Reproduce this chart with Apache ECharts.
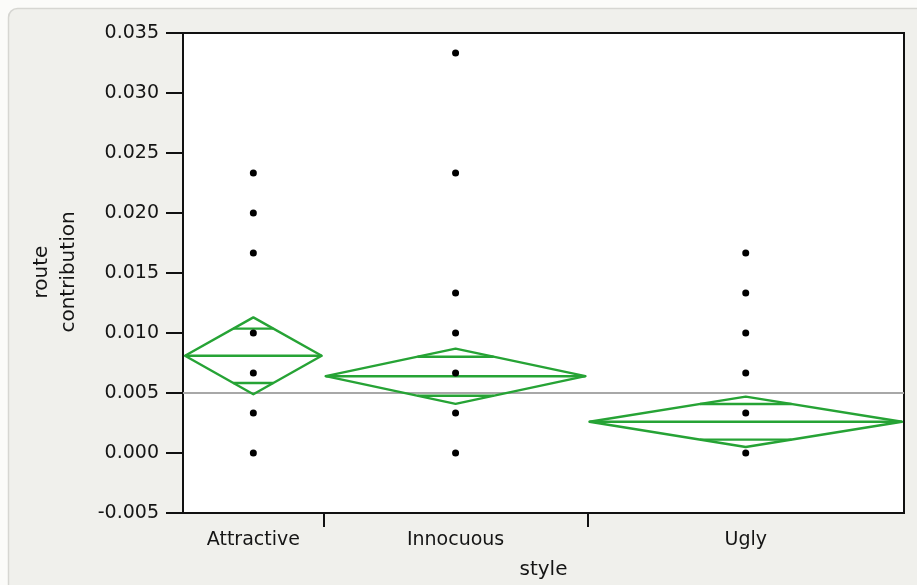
<!DOCTYPE html>
<html>
<head>
<meta charset="utf-8">
<script src="https://cdn.jsdelivr.net/npm/echarts@6/dist/echarts.min.js"></script>
<style>
  html, body { margin: 0; padding: 0; background: #fbfbf9; }
  #chart { width: 917px; height: 585px; }
</style>
</head>
<body>
<div id="chart"></div>
<script>
// Route contribution by style: raw observations with means diamonds
const categories = ['Attractive', 'Innocuous', 'Ugly'];
const groupCounts = [8, 15, 18];                 // group sizes set the column widths
const groupMeans = [0.0081, 0.0064, 0.0026];
const ciHalfWidths = [0.0032, 0.0023, 0.0021];  // 95% interval half-widths
const grandMean = 0.005;

const attractiveValues = [0, 0.00333, 0.00667, 0.01, 0.01667, 0.02, 0.02333];
const innocuousValues = [0, 0.00333, 0.00667, 0.01, 0.01333, 0.02333, 0.03333];
const uglyValues = [0, 0.00333, 0.00667, 0.01, 0.01333, 0.01667];
const groupValues = [attractiveValues, innocuousValues, uglyValues];

const yTicks = [-0.005, 0, 0.005, 0.01, 0.015, 0.02, 0.025, 0.03, 0.035];

// column boundaries along a count-scaled x axis
const bounds = [0];
groupCounts.forEach((n, i) => bounds.push(bounds[i] + n));
const totalN = bounds[bounds.length - 1];
const centers = categories.map((c, i) => (bounds[i] + bounds[i + 1]) / 2);

const pointData = [];
groupValues.forEach((vals, i) => vals.forEach(v => pointData.push([centers[i], v])));

const diamondData = categories.map((c, i) => [bounds[i], bounds[i + 1], groupMeans[i], ciHalfWidths[i]]);

const green = '#26a335';
const font = '"DejaVu Sans", sans-serif';
const textColor = '#151515';

const chart = echarts.init(document.getElementById('chart'), null, { renderer: 'canvas' });

chart.setOption({
  backgroundColor: '#fbfbf9',
  animation: false,
  graphic: [
    {
      type: 'rect', z: -10, silent: true,
      shape: { x: 8.5, y: 8.5, width: 940, height: 600, r: 9 },
      style: { fill: '#f0f0ec', stroke: '#d6d6d2', lineWidth: 1.5 }
    },
    {
      type: 'text', silent: true,
      x: 55, y: 272, rotation: Math.PI / 2,
      style: {
        text: 'route\ncontribution', font: '20px ' + font, fill: textColor,
        align: 'center', verticalAlign: 'middle', lineHeight: 27
      }
    }
  ],
  grid: {
    left: 183, top: 33, right: 13, bottom: 72,
    show: true, backgroundColor: '#ffffff', borderColor: '#111', borderWidth: 2
  },
  xAxis: {
    type: 'value', min: 0, max: totalN,
    name: 'style', nameLocation: 'middle', nameGap: 47,
    nameTextStyle: { fontFamily: font, fontSize: 20, color: textColor },
    axisLine: { show: true, onZero: false, lineStyle: { color: '#111', width: 2 } },
    axisTick: {
      show: true, length: 14, customValues: bounds.slice(1, -1),
      lineStyle: { color: '#111', width: 2 }
    },
    axisLabel: {
      customValues: centers, margin: 18,
      fontFamily: font, fontSize: 19, color: textColor,
      formatter: v => {
        const i = centers.findIndex(c => Math.abs(c - v) < 1e-6);
        return i >= 0 ? categories[i] : '';
      }
    },
    splitLine: { show: false }
  },
  yAxis: {
    type: 'value', min: yTicks[0], max: yTicks[yTicks.length - 1], interval: 0.005,
    axisLine: { show: true, onZero: false, lineStyle: { color: '#111', width: 2 } },
    axisTick: { show: true, length: 17, lineStyle: { color: '#111', width: 2 } },
    axisLabel: {
      margin: 24, fontFamily: font, fontSize: 19, color: textColor,
      formatter: v => (Math.abs(v) < 1e-9 ? 0 : v).toFixed(3)
    },
    splitLine: { show: false }
  },
  series: [
    {
      name: 'grand mean', type: 'line', silent: true, symbol: 'none', z: 1,
      data: [[0, grandMean], [totalN, grandMean]],
      lineStyle: { color: '#a8a8a8', width: 2 }
    },
    {
      name: 'means diamonds', type: 'custom', silent: true, z: 2, clip: true,
      data: diamondData,
      renderItem: (params, api) => {
        const x0 = api.value(0), x1 = api.value(1), m = api.value(2), h = api.value(3);
        const xc = (x0 + x1) / 2;
        const pL = api.coord([x0, m]), pR = api.coord([x1, m]);
        pL[0] += 2; pR[0] -= 2;   // keep the tips just inside the column
        const pT = api.coord([xc, m + h]), pB = api.coord([xc, m - h]);
        const style = { stroke: green, lineWidth: 2.4, fill: null, lineJoin: 'round' };
        const children = [
          { type: 'polygon', shape: { points: [pL, pT, pR, pB] }, style },
          { type: 'line', shape: { x1: pL[0], y1: pL[1], x2: pR[0], y2: pR[1] }, style }
        ];
        // overlap marks at mean ± h/√2
        const d = h / Math.SQRT2;
        const frac = 1 - 1 / Math.SQRT2;
        const halfW = (pR[0] - pL[0]) / 2 * frac;
        [m + d, m - d].forEach(y => {
          const p = api.coord([xc, y]);
          children.push({ type: 'line', shape: { x1: p[0] - halfW, y1: p[1], x2: p[0] + halfW, y2: p[1] }, style });
        });
        return { type: 'group', children };
      }
    },
    {
      name: 'route contribution', type: 'scatter', z: 3,
      data: pointData, symbol: 'circle', symbolSize: 7,
      itemStyle: { color: '#000', opacity: 1 }
    }
  ]
});
</script>
</body>
</html>
